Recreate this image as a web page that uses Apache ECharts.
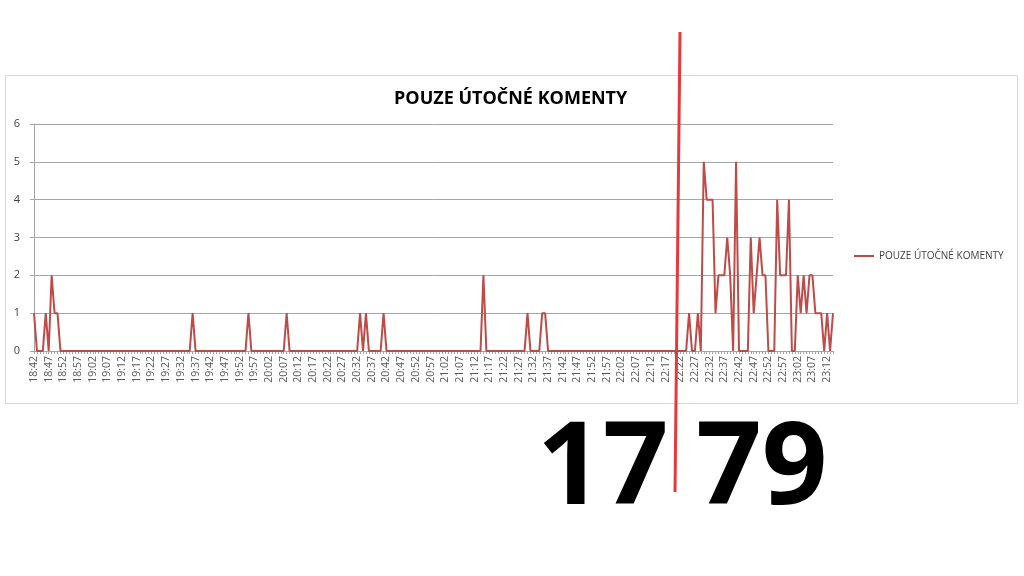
<!DOCTYPE html>
<html>
<head>
<meta charset="utf-8">
<script src="https://cdn.jsdelivr.net/npm/echarts@6/dist/echarts.min.js"></script>
<style>
  html, body { margin: 0; padding: 0; background: #fff; }
  #chart { width: 1024px; height: 576px; }
</style>
</head>
<body>
<div id="chart"></div>
<script>
// casy po minute od 18:42 do 23:14
const startHour = 18;
const startMinute = 42;
const pointCount = 273;
const times = [];
for (let i = 0; i < pointCount; i++) {
  const t = startHour * 60 + startMinute + i;
  const h = Math.floor(t / 60);
  const m = t % 60;
  times.push(h + ":" + (m < 10 ? "0" + m : m));
}

// pocet utocnych komentaru za minutu
const attackComments = [
  1,0,0,0,1,0,2,1,1,0, 0,0,0,0,0,0,0,0,0,0,
  0,0,0,0,0,0,0,0,0,0, 0,0,0,0,0,0,0,0,0,0,
  0,0,0,0,0,0,0,0,0,0, 0,0,0,0,1,0,0,0,0,0,
  0,0,0,0,0,0,0,0,0,0, 0,0,0,1,0,0,0,0,0,0,
  0,0,0,0,0,0,1,0,0,0, 0,0,0,0,0,0,0,0,0,0,
  0,0,0,0,0,0,0,0,0,0, 0,1,0,1,0,0,0,0,0,1,
  0,0,0,0,0,0,0,0,0,0, 0,0,0,0,0,0,0,0,0,0,
  0,0,0,0,0,0,0,0,0,0, 0,0,0,2,0,0,0,0,0,0,
  0,0,0,0,0,0,0,0,1,0, 0,0,0,1,1,0,0,0,0,0,
  0,0,0,0,0,0,0,0,0,0, 0,0,0,0,0,0,0,0,0,0,
  0,0,0,0,0,0,0,0,0,0, 0,0,0,0,0,0,0,0,0,0,
  0,0,0,1,0,0,1,0,5,4, 4,4,1,2,2,2,3,2,0,5,
  0,0,0,0,3,1,2,3,2,2, 0,0,0,4,2,2,2,4,0,0,
  2,1,2,1,2,2,1,1,1,0, 1,0,1
];

// y osa
const yTicks = [0, 1, 2, 3, 4, 5, 6];

// velka cisla pod grafem
const beforeTotal = "17";
const afterTotal = "79";

const seriesName = "POUZE ÚTOČNÉ KOMENTY";
const font = "'Open Sans', 'Noto Sans', sans-serif";

const chart = echarts.init(document.getElementById("chart"));

const option = {
  backgroundColor: "#ffffff",
  animation: false,
  title: {
    text: seriesName,
    left: 389,
    top: 85,
    textStyle: {
      fontFamily: font,
      fontSize: 18,
      fontWeight: "bold",
      color: "#000000"
    }
  },
  legend: {
    data: [seriesName],
    left: 853,
    top: 251,
    padding: 0,
    itemWidth: 20,
    itemHeight: 10,
    itemStyle: { opacity: 0 },
    textStyle: { fontFamily: font, fontSize: 10, color: "#404040" }
  },
  grid: {
    left: 34,
    right: 191,
    top: 124,
    bottom: 225
  },
  xAxis: {
    type: "category",
    boundaryGap: false,
    data: times,
    axisLine: { lineStyle: { color: "#a6a6a6" } },
    axisTick: {
      show: true,
      interval: 0,
      length: 3,
      lineStyle: { color: "#a6a6a6" }
    },
    axisLabel: {
      interval: 4,
      rotate: 90,
      margin: 5,
      fontFamily: font,
      fontSize: 10.5,
      color: "#595959"
    },
    splitLine: { show: false }
  },
  yAxis: {
    type: "value",
    min: yTicks[0],
    max: yTicks[yTicks.length - 1],
    interval: 1,
    axisLine: { show: true, lineStyle: { color: "#a6a6a6" } },
    axisTick: { show: true, length: 4, lineStyle: { color: "#a6a6a6" } },
    axisLabel: {
      margin: 14,
      fontFamily: font,
      fontSize: 11,
      color: "#404040"
    },
    splitLine: { lineStyle: { color: "#a6a6a6", width: 1 } }
  },
  series: [
    {
      name: seriesName,
      type: "line",
      data: attackComments,
      symbol: "none",
      lineStyle: { color: "#be4b48", width: 2 },
      itemStyle: { color: "#be4b48" }
    }
  ],
  graphic: [
    // ramecek grafu
    {
      type: "rect",
      shape: { x: 5.5, y: 75.5, width: 1012, height: 328 },
      style: { fill: null, stroke: "#d9d9d9", lineWidth: 1 },
      z: -1
    },
    // cervena delici cara
    {
      type: "line",
      shape: { x1: 680, y1: 32, x2: 675, y2: 492 },
      style: { stroke: "#e8383a", lineWidth: 3 },
      z: 10
    },
    {
      type: "text",
      left: 537,
      top: 414,
      style: {
        text: beforeTotal,
        fontFamily: font,
        fontSize: 115,
        fontWeight: "bold",
        fill: "#000000"
      }
    },
    {
      type: "text",
      left: 696,
      top: 414,
      style: {
        text: afterTotal,
        fontFamily: font,
        fontSize: 115,
        fontWeight: "bold",
        fill: "#000000"
      }
    }
  ]
};

chart.setOption(option);
</script>
</body>
</html>
